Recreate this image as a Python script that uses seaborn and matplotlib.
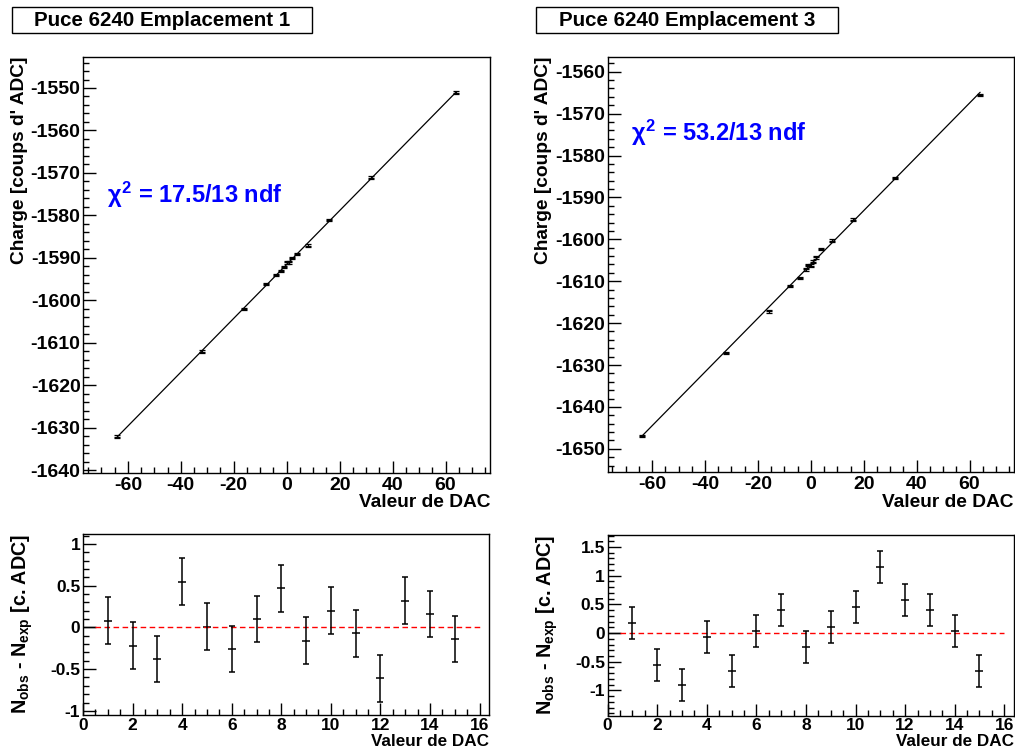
import numpy as np
import pandas as pd
import seaborn as sns
import matplotlib
matplotlib.use("Agg")
import matplotlib.pyplot as plt
from matplotlib.patches import Rectangle
from matplotlib.ticker import MultipleLocator, FuncFormatter

# ---------------- data ----------------
dac = [-64, -32, -16, -8, -4, -2, -1, 0, 1, 2, 4, 8, 16, 32, 64]

charge_e1 = [-1632.1, -1612.1, -1602.1, -1596.1, -1594.1, -1593.1, -1592.1, -1591.1,
             -1591.1, -1590.1, -1589.1, -1587.1, -1581.1, -1571.1, -1551.1]
charge_e3 = [-1646.9, -1627.1, -1617.2, -1611.2, -1609.2, -1607.2, -1606.2, -1606.25,
             -1605.3, -1604.3, -1602.3, -1600.3, -1595.3, -1585.4, -1565.6]
charge_err_e1 = [0.28, 0.28, 0.28, 0.28, 0.28, 0.28, 0.28, 0.28, 0.28, 0.28, 0.28, 0.28, 0.28, 0.28, 0.28]
charge_err_e3 = [0.28, 0.28, 0.28, 0.28, 0.28, 0.28, 0.28, 0.28, 0.28, 0.28, 0.28, 0.28, 0.28, 0.28, 0.28]

res_index = [1, 2, 3, 4, 5, 6, 7, 8, 9, 10, 11, 12, 13, 14, 15]
res_e1 = [0.08, -0.22, -0.38, 0.55, 0.01, -0.26, 0.10, 0.47, -0.16, 0.20, -0.07, -0.61, 0.32, 0.16, -0.14]
res_e3 = [0.17, -0.55, -0.90, -0.07, -0.66, 0.04, 0.40, -0.25, 0.10, 0.46, 1.15, 0.57, 0.40, 0.04, -0.66]
res_err_e1 = [0.28, 0.28, 0.28, 0.28, 0.28, 0.28, 0.28, 0.28, 0.28, 0.28, 0.28, 0.28, 0.28, 0.28, 0.28]
res_err_e3 = [0.28, 0.28, 0.28, 0.28, 0.28, 0.28, 0.28, 0.28, 0.28, 0.28, 0.28, 0.28, 0.28, 0.28, 0.28]

titles = ["Puce 6240 Emplacement 1", "Puce 6240 Emplacement 3"]
chi2_labels = [r"$\chi^{\mathbf{2}}$ = 17.5/13 ndf", r"$\chi^{\mathbf{2}}$ = 53.2/13 ndf"]

# ---------------- style ----------------
sns.set_theme(style="ticks")
plt.rcParams["font.family"] = ["Liberation Sans", "DejaVu Sans"]
plt.rcParams["font.weight"] = "bold"
plt.rcParams["axes.unicode_minus"] = False
plt.rcParams["mathtext.fontset"] = "custom"
plt.rcParams["mathtext.rm"] = "Liberation Sans:bold"
plt.rcParams["mathtext.bf"] = "Liberation Sans:bold"
plt.rcParams["mathtext.it"] = "Liberation Sans"
for key in ["text.color", "axes.labelcolor", "xtick.color", "ytick.color", "axes.edgecolor"]:
    plt.rcParams[key] = "black"

fig = plt.figure(figsize=(10.15, 7.48), dpi=100)
fig.patch.set_facecolor("white")

top_pos = [[0.0821, 0.3681, 0.4007, 0.5557], [0.5987, 0.3686, 0.4003, 0.5557]]
bot_pos = [[0.0818, 0.0441, 0.4000, 0.2420], [0.5987, 0.0432, 0.4000, 0.2416]]
top_ylim = [(-1640.6, -1542.7), (-1655.6, -1556.4)]
bot_ylim = [(-1.05, 1.12), (-1.44, 1.71)]
chi_pos = [(0.059, 0.668), (0.057, 0.816)]
box_x = [(0.0115, 0.2956), (0.5278, 0.2981)]

charges = [charge_e1, charge_e3]
charge_errs = [charge_err_e1, charge_err_e3]
residuals = [res_e1, res_e3]
res_errs = [res_err_e1, res_err_e3]

fmt_g = FuncFormatter(lambda v, p: "%g" % round(v, 6))


def style_axes(ax, labelsize, major_len=9, minor_len=4.5):
    for sp in ax.spines.values():
        sp.set_visible(True)
        sp.set_linewidth(1.0)
        sp.set_color("black")
    ax.tick_params(which="both", direction="in", top=False, right=False,
                   colors="black", width=1.0)
    ax.tick_params(which="major", length=major_len, labelsize=labelsize, pad=3)
    ax.tick_params(which="minor", length=minor_len)
    ax.tick_params(axis="y", pad=2)
    ax.set_facecolor("white")
    ax.grid(False)


for i in range(2):
    # ---------- top: charge vs DAC ----------
    ax = fig.add_axes(top_pos[i])
    df = pd.DataFrame({"dac": dac, "charge": charges[i]})
    coef = np.polyfit(df["dac"], df["charge"], 1)
    xs = np.array([df["dac"].min(), df["dac"].max()], dtype=float)
    sns.lineplot(x=xs, y=np.polyval(coef, xs), ax=ax, color="black", linewidth=0.9)
    ax.errorbar(df["dac"], df["charge"], yerr=charge_errs[i], fmt="none",
                ecolor="black", elinewidth=0.9, capsize=2.0, capthick=0.9)
    sns.scatterplot(data=df, x="dac", y="charge", ax=ax, marker="_", s=14,
                    color="black", linewidth=0.9)
    ax.set_xlim(-76.8, 76.8)
    ax.set_ylim(*top_ylim[i])
    ax.xaxis.set_major_locator(MultipleLocator(20))
    ax.xaxis.set_minor_locator(MultipleLocator(5))
    ax.yaxis.set_major_locator(MultipleLocator(10))
    ax.yaxis.set_minor_locator(MultipleLocator(2))
    ax.xaxis.set_major_formatter(fmt_g)
    ax.yaxis.set_major_formatter(fmt_g)
    style_axes(ax, 14)
    ax.set_xlabel("Valeur de DAC", fontsize=13.8, fontweight="bold", loc="right")
    ax.xaxis.set_label_coords(1.0, -0.052)
    ax.set_ylabel("Charge [coups d' ADC]", fontsize=13.8, fontweight="bold", loc="top")
    ax.yaxis.set_label_coords(-0.137, 1.0)
    ax.text(chi_pos[i][0], chi_pos[i][1], chi2_labels[i], transform=ax.transAxes,
            color="#0000ff", fontsize=17, fontweight="bold", va="center", ha="left")

    # ---------- bottom: residuals ----------
    axr = fig.add_axes(bot_pos[i])
    dr = pd.DataFrame({"idx": res_index, "res": residuals[i]})
    axr.plot([0, 0.5], [0, 0], color="black", linewidth=1.0)
    axr.plot([0.5, 16], [0, 0], color="#ff0000", linewidth=1.0, linestyle=(0, (4, 2.5)))
    axr.errorbar(dr["idx"], dr["res"], yerr=res_errs[i], fmt="none",
                 ecolor="black", elinewidth=1.1, capsize=2.5, capthick=1.1)
    sns.scatterplot(data=dr, x="idx", y="res", ax=axr, marker="_", s=36,
                    color="black", linewidth=1.1)
    axr.set_xlim(0, 16.38)
    axr.set_ylim(*bot_ylim[i])
    axr.xaxis.set_major_locator(MultipleLocator(2))
    axr.xaxis.set_minor_locator(MultipleLocator(0.5))
    axr.yaxis.set_major_locator(MultipleLocator(0.5))
    axr.yaxis.set_minor_locator(MultipleLocator(0.1))
    axr.xaxis.set_major_formatter(fmt_g)
    axr.yaxis.set_major_formatter(fmt_g)
    style_axes(axr, 12.5)
    axr.tick_params(axis="x", pad=2)
    axr.set_xlabel("Valeur de DAC", fontsize=12.3, fontweight="bold", loc="right")
    axr.xaxis.set_label_coords(1.0, -0.103)
    axr.set_ylabel(r"$\mathbf{N_{obs}}$ - $\mathbf{N_{exp}}$ [c. ADC]",
                   fontsize=14.2, fontweight="bold", loc="top")
    axr.yaxis.set_label_coords(-0.118, 1.0)

    # ---------- title box ----------
    bx, bw = box_x[i]
    fig.add_artist(Rectangle((bx, 0.9555), bw, 0.0348, transform=fig.transFigure,
                             facecolor="white", edgecolor="black", linewidth=1.0))
    fig.text(bx + bw / 2, 0.9555 + 0.0348 / 2, titles[i], ha="center", va="center",
             fontsize=14.8, fontweight="bold", color="black")

fig.savefig("out.png", dpi=100, facecolor="white")
